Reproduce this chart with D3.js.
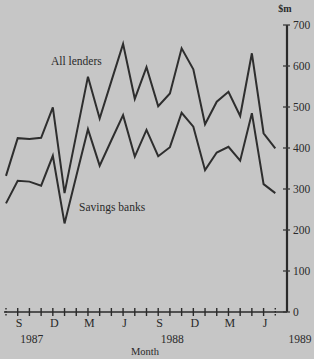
<!DOCTYPE html>
<html><head><meta charset="utf-8">
<script src="https://cdn.jsdelivr.net/npm/d3@7"></script>
<style>
html,body{margin:0;padding:0;background:#c6c6c6;}
svg{display:block;}
text{font-family:"Liberation Serif","DejaVu Serif",serif;fill:#2a2a2a;}
</style></head>
<body>
<svg id="c" width="314" height="359"></svg>
<script>
// Monthly data, Aug 1987 .. Jul 1989 ($m)
const months = ["Aug87","Sep87","Oct87","Nov87","Dec87","Jan88","Feb88","Mar88","Apr88","May88","Jun88","Jul88",
                "Aug88","Sep88","Oct88","Nov88","Dec88","Jan89","Feb89","Mar89","Apr89","May89","Jun89","Jul89"];
const allLenders   = [332,424,422,425,499,290,432,574,472,563,654,520,597,502,533,643,592,458,513,537,478,631,436,399];
const savingsBanks = [265,320,318,308,381,216,331,446,357,419,480,379,444,380,402,486,452,346,389,403,369,485,312,290];
const monthTickLabels = [{i:1,t:"S"},{i:4,t:"D"},{i:7,t:"M"},{i:10,t:"J"},{i:13,t:"S"},{i:16,t:"D"},{i:19,t:"M"},{i:22,t:"J"}];
const yearLabels = [{i:2.2,t:"1987"},{i:14.2,t:"1988"},{i:25.1,t:"1989"}];
const yTicks = [0,100,200,300,400,500,600,700];

const svg = d3.select("#c");
const x = d3.scaleLinear().domain([0,24]).range([6,287]);
const y = d3.scaleLinear().domain([0,700]).range([312,25]);

// x axis line
svg.append("line").attr("x1",x(0)-2).attr("x2",x(24)).attr("y1",y(0)).attr("y2",y(0))
  .attr("stroke","#2a2a2a").attr("stroke-width",1.6);
// month ticks
svg.selectAll(".xt").data(d3.range(0,24)).join("line")
  .attr("x1",d=>x(d)).attr("x2",d=>x(d)).attr("y1",y(0)-4).attr("y2",y(0)+4)
  .attr("stroke","#2a2a2a").attr("stroke-width",1.4)
  .attr("stroke-dasharray",d=>(d===0||d===23)?"1.5,1.5":null);
svg.selectAll(".xl").data(monthTickLabels).join("text")
  .attr("x",d=>x(d.i)+1.5).attr("y",327).attr("text-anchor","middle")
  .attr("font-size",12).text(d=>d.t);
svg.selectAll(".yl").data(yearLabels).join("text")
  .attr("x",d=>x(d.i)).attr("y",343).attr("text-anchor","middle")
  .attr("font-size",11.5).text(d=>d.t);
svg.append("text").attr("x",145).attr("y",355).attr("text-anchor","middle")
  .attr("font-size",10.5).text("Month");

// y axis
svg.append("line").attr("x1",x(24)).attr("x2",x(24)).attr("y1",y(700)).attr("y2",y(0))
  .attr("stroke","#2a2a2a").attr("stroke-width",2.2);
svg.selectAll(".ytk").data(yTicks).join("line")
  .attr("x1",x(24)-4).attr("x2",x(24)+3).attr("y1",d=>y(d)).attr("y2",d=>y(d))
  .attr("stroke","#3a3a3a").attr("stroke-width",1.3);
svg.selectAll(".ytl").data(yTicks).join("text")
  .attr("x",x(24)+6).attr("y",d=>y(d)+4).attr("font-size",11.5).text(d=>d);
svg.append("text").attr("x",285).attr("y",12).attr("text-anchor","middle")
  .attr("font-size",10).attr("font-weight","bold").text("$m");

// lines
const line = d3.line().x((d,i)=>x(i)).y(d=>y(d));
[allLenders, savingsBanks].forEach(s=>{
  svg.append("path").datum(s).attr("d",line).attr("fill","none")
    .attr("stroke","#2e2e2e").attr("stroke-width",2).attr("stroke-linejoin","miter");
});
svg.append("text").attr("x",51).attr("y",65).attr("font-size",11.5).text("All lenders");
svg.append("text").attr("x",79).attr("y",211).attr("font-size",11.5).text("Savings banks");
</script>
</body></html>
